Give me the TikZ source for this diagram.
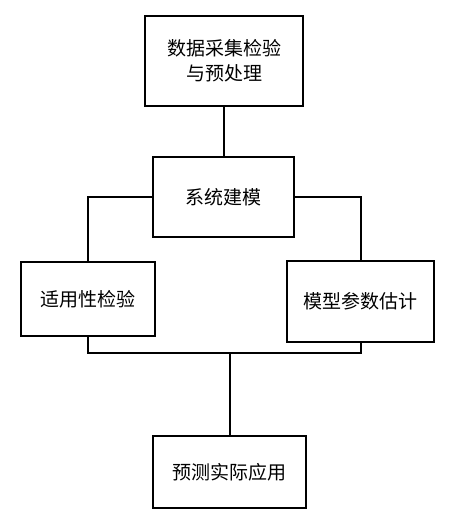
\documentclass[tikz,border=0pt]{standalone}
\usepackage{fontspec}
\newfontfamily\cjk{Noto Sans CJK SC}
\begin{document}
\begin{tikzpicture}[x=1pt,y=-1pt,
  box/.style={draw,line width=2pt,inner sep=0pt,font=\cjk\fontsize{19}{25}\selectfont,align=center},
  wire/.style={line width=2pt}]
\useasboundingbox[fill=white] (0,0) rectangle (455,524);
\node[box,minimum width=158pt,minimum height=90pt] (a) at (224,61) {数据采集检验\\与预处理};
\node[box,minimum width=141pt,minimum height=80pt] (b) at (223.5,197) {系统建模};
\node[box,minimum width=134pt,minimum height=74pt] (c) at (88,299) {适用性检验};
\node[box,minimum width=147pt,minimum height=81pt] (d) at (360.5,301.5) {模型参数估计};
\node[box,minimum width=153pt,minimum height=72pt] (e) at (229.5,472) {预测实际应用};
\coordinate (j) at (229.5,353);
\draw[wire] (a.south) -- (a.south |- b.north);
\draw[wire] (b.west) -| (c.north);
\draw[wire] (b.east) -| (d.north);
\draw[wire] (c.south) |- (j) -| (d.south);
\draw[wire] (j) -- (e.north);
\end{tikzpicture}
\end{document}
